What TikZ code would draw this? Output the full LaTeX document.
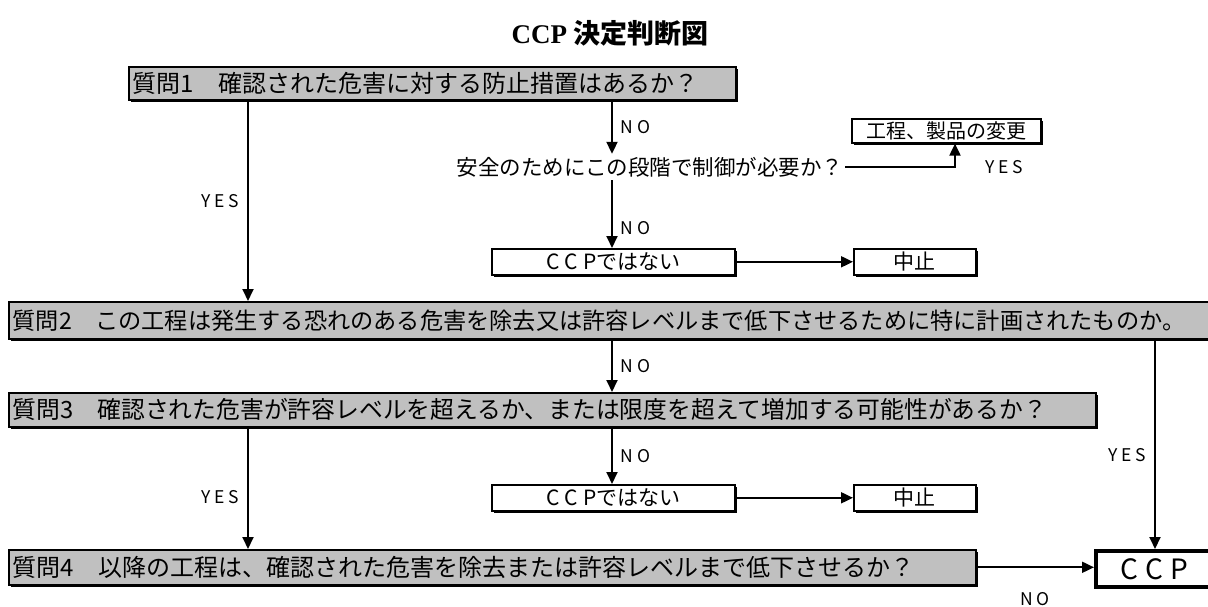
\documentclass[tikz,border=0pt]{standalone}
\usepackage{fontspec}
\setmainfont{Noto Sans CJK JP}
\newfontfamily\titlelat{Liberation Serif}
\usetikzlibrary{arrows.meta,shadows,calc}
\definecolor{boxgray}{RGB}{192,192,192}
\begin{document}
\begin{tikzpicture}[x=1pt,y=-1pt,
  base/.style={draw, line width=1.6pt, inner ysep=0pt, inner xsep=4pt, anchor=north west,
    drop shadow={shadow xshift=2pt,shadow yshift=-2pt,fill=black,opacity=1}},
  qbox/.style={base, fill=boxgray, align=left, font=\fontsize{24}{28}\selectfont},
  wbox/.style={base, fill=white, align=center, font=\fontsize{21}{24}\selectfont},
  conn/.style={line width=1.9pt},
  arr/.style={conn, -{Triangle[length=12pt,width=11pt]}},
  lbl/.style={font=\fontsize{17.5}{20}\selectfont, inner sep=0pt}]
\useasboundingbox (0,0) rectangle (1208,607);

\node (title) at (610,33) {\fontsize{27}{30}\selectfont{\titlelat\bfseries CCP} {\bfseries 決定判断図}};

\node[qbox, text width=599pt, minimum height=33pt] (q1) at (128,66) {質問1　確認された危害に対する防止措置はあるか？};
\node[qbox, font=\fontsize{23.2}{28}\selectfont, text width=1196pt, minimum height=37pt] (q2) at (8,301) {質問2　この工程は発生する恐れのある危害を除去又は許容レベルまで低下させるために特に計画されたものか。};
\node[qbox, font=\fontsize{23.8}{28}\selectfont, text width=1079pt, minimum height=34pt] (q3) at (8,392) {質問3　確認された危害が許容レベルを超えるか、または限度を超えて増加する可能性があるか？};
\node[qbox, text width=959pt, minimum height=35pt] (q4) at (8,549) {質問4　以降の工程は、確認された危害を除去または許容レベルまで低下させるか？};

\node[anchor=center, inner xsep=2pt, inner ysep=3pt, font=\fontsize{21.5}{24}\selectfont] (safe) at (650,167) {安全のためにこの段階で制御が必要か？};

\node[wbox, font=\fontsize{20}{24}\selectfont, text width=181pt, minimum height=24pt] (chg) at (851,118) {工程、製品の変更};
\node[wbox, text width=235pt, minimum height=26pt] (n1) at (491,248) {C\kern5pt C\kern5pt Pではない};
\node[wbox, text width=114pt, minimum height=26pt] (s1) at (853,248) {中止};
\node[wbox, text width=235pt, minimum height=26pt] (n2) at (491,484) {C\kern5pt C\kern5pt Pではない};
\node[wbox, text width=114pt, minimum height=26pt] (s2) at (853,484) {中止};

\node[draw, line width=4pt, fill=white, anchor=north west, inner sep=0pt, minimum width=116pt, minimum height=36pt,
  font=\fontsize{28}{30}\selectfont] (ccp) at (1094,549) {C\kern7pt C\kern7pt P};

\coordinate (xa) at (248,0);
\coordinate (xb) at (612,0);
\coordinate (xc) at (1155,0);
\coordinate (xd) at (955,0);

\draw[arr] (xa |- q1.south) -- node[lbl, left=8pt] {Y\kern4pt E\kern4pt S} (xa |- q2.north);
\draw[arr] (xb |- q1.south) -- node[lbl, right=8pt] {N\kern4pt O} (xb |- safe.north);
\draw[arr] (safe.east) -| (xd |- chg.south);
\node[lbl, anchor=west] (yes1) at (985,167) {Y\kern4pt E\kern4pt S};
\draw[arr] (xb |- safe.south) -- node[lbl, right=8pt, pos=0.7] {N\kern4pt O} (xb |- n1.north);
\draw[arr] (n1.east) -- (s1.west);

\draw[arr] (xb |- q2.south) -- node[lbl, right=8pt] {N\kern4pt O} (xb |- q3.north);
\draw[arr] (xc |- q2.south) -- node[lbl, left=8pt, pos=0.55] {Y\kern4pt E\kern4pt S} (xc |- ccp.north);
\draw[arr] (xa |- q3.south) -- node[lbl, left=8pt, pos=0.57] {Y\kern4pt E\kern4pt S} (xa |- q4.north);
\draw[arr] (xb |- q3.south) -- node[lbl, right=8pt] {N\kern4pt O} (xb |- n2.north);
\draw[arr] (n2.east) -- (s2.west);

\draw[arr] (q4.east) -- node[lbl, below=24pt] {N\kern3pt O} (q4.east -| ccp.west);
\end{tikzpicture}
\end{document}
